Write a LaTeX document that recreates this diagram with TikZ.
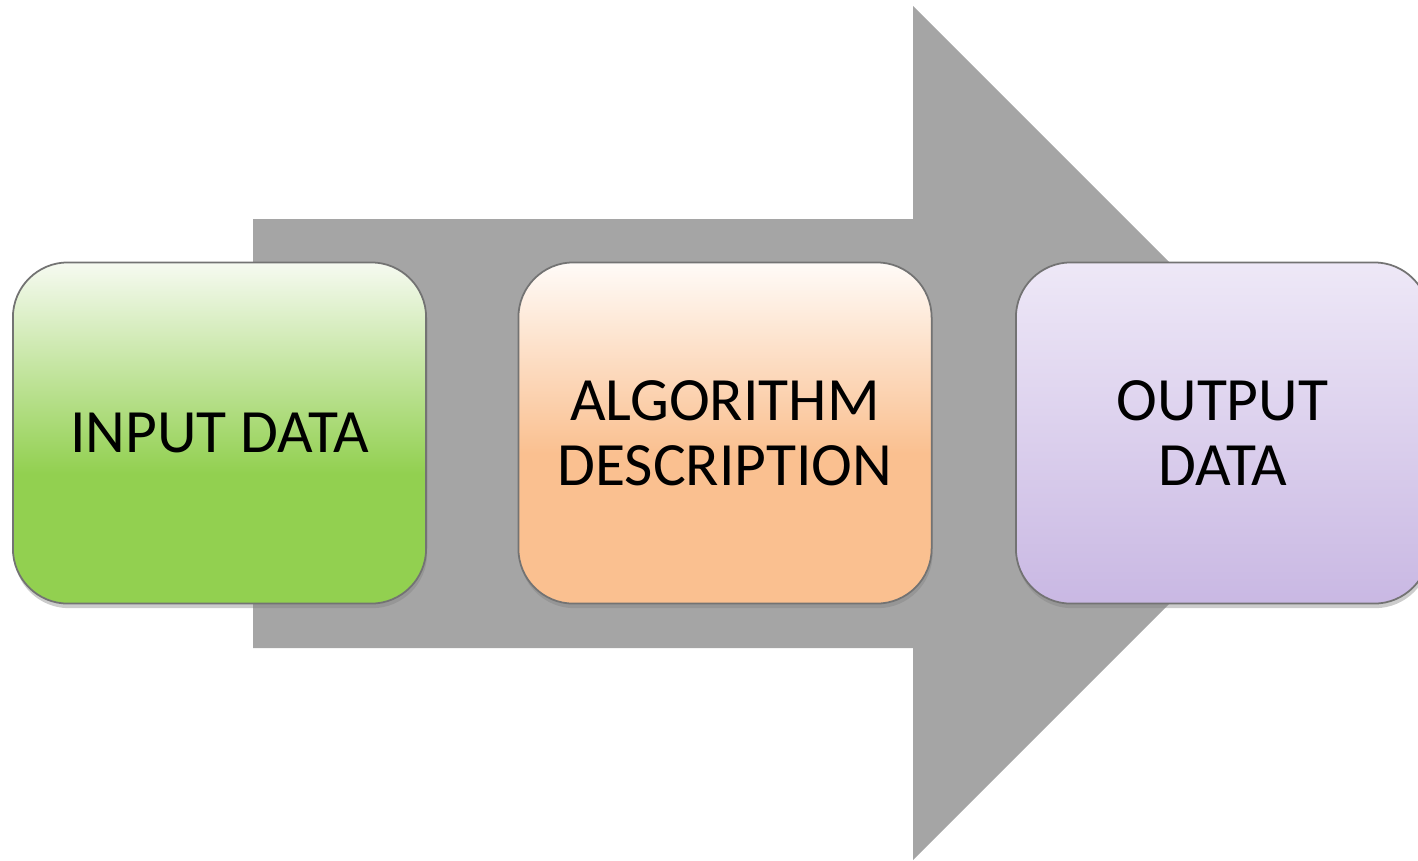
\documentclass[tikz,border=0pt]{standalone}
\usepackage{fontspec}
\setmainfont{Carlito}
\usetikzlibrary{shadows,positioning}

\definecolor{arrowgray}{HTML}{A5A5A5}
\definecolor{inputtop}{HTML}{F6FAF1}
\definecolor{inputbot}{HTML}{92D050}
\definecolor{algotop}{HTML}{FFFBF8}
\definecolor{algobot}{HTML}{FAC090}
\definecolor{outtop}{HTML}{EEE8F7}
\definecolor{outbot}{HTML}{C9B8E3}

\pgfdeclareverticalshading{inputfill}{100bp}{color(0bp)=(inputbot); color(44bp)=(inputbot); color(75bp)=(inputtop); color(100bp)=(inputtop)}
\pgfdeclareverticalshading{algofill}{100bp}{color(0bp)=(algobot); color(47bp)=(algobot); color(75bp)=(algotop); color(100bp)=(algotop)}
\pgfdeclareverticalshading{outfill}{100bp}{color(0bp)=(outbot); color(25bp)=(outbot); color(75bp)=(outtop); color(100bp)=(outtop)}

\tikzset{
  stage/.style={draw=black!55, line width=0.5pt, rounded corners=0.55cm,
    minimum width=4.13cm, minimum height=3.41cm, inner sep=0pt,
    align=center, font=\fontsize{17.5}{18.6}\selectfont,
    drop shadow={shadow xshift=0.3pt, shadow yshift=-1.3pt, opacity=0.4}}
}

\begin{document}
\begin{tikzpicture}[x=0.01cm, y=-0.01cm]
    \useasboundingbox (0,0) rectangle (1418,860);

    % big arrow behind the steps
    \fill[arrowgray] (253,219) -- (913,219) -- (913,6) -- (1340,433)
        -- (913,860) -- (913,648) -- (253,648) -- cycle;

    % steps
    \node[stage, shading=inputfill] (input) at (219.5,433) {INPUT DATA};
    \node[stage, shading=algofill] (algo) at (725,433) {ALGORITHM\\DESCRIPTION};
    \node[stage, shading=outfill] (output) at (1222.5,433) {OUTPUT\\DATA};
\end{tikzpicture}
\end{document}
